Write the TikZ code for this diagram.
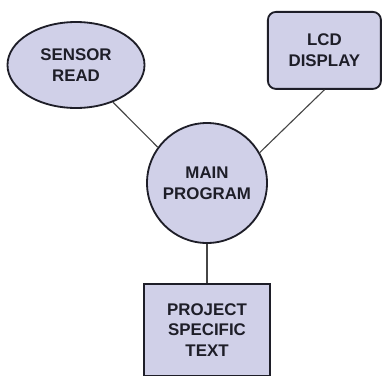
\documentclass[tikz,border=0pt]{standalone}
\usepackage{fontspec}
\setmainfont{Liberation Sans}
\definecolor{blockfill}{RGB}{208, 208, 232}
\definecolor{blockline}{RGB}{30, 30, 40}
\definecolor{linkline}{RGB}{70, 70, 70}
\usetikzlibrary{shapes.geometric, positioning}

\begin{document}
\begin{tikzpicture}[
        block/.style={draw=blockline, line width=1.3pt, fill=blockfill, align=center,
            text=blockline, inner sep=0pt, font=\fontsize{12}{14.7}\selectfont\bfseries},
        link/.style={draw=linkline, line width=0.8pt}
    ]
        \useasboundingbox (0,0) rectangle (9.55,-9.375);

        % Main program in the middle
        \node[block, circle, minimum size=3cm] (main) at (5.175,-4.575) {MAIN\\PROGRAM};

        % Modules round it
        \node[block, ellipse, minimum width=3.425cm, minimum height=2.15cm]
            (sensor) at (1.9,-1.625) {SENSOR\\READ};
        \node[block, rounded corners=2mm, minimum width=2.825cm, minimum height=1.925cm]
            (lcd) at (8.11,-1.26) {LCD\\DISPLAY};
        \node[block, minimum width=3.15cm, minimum height=2.3cm]
            (project) at (5.175,-8.25) {PROJECT\\SPECIFIC\\TEXT};

        % Links
        \draw[link] (sensor) -- (main.144);
        \draw[link] (lcd.south) -- (main.30);
        \draw[link] (main.south) -- (project.north);
    \end{tikzpicture}
\end{document}
